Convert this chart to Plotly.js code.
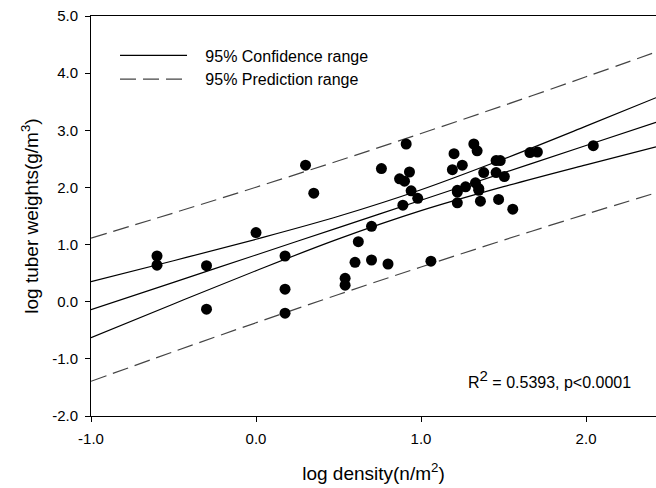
<!DOCTYPE html>
<html><head><meta charset="utf-8">
<script src="https://cdn.plot.ly/plotly-3.0.1.min.js"></script>
<style>body{margin:0;padding:0;background:#fff}#chart{width:656px;height:488px}</style>
</head><body><div id="chart"></div>
<script>
// Observed points (log density, log tuber weight)
const densityX = [-0.60,-0.60,-0.30,-0.30,0.00,0.176,0.176,0.176,0.30,0.35,0.54,0.54,0.60,0.62,0.70,0.70,0.76,0.80,0.87,0.89,0.90,0.91,0.93,0.94,0.98,1.06,1.19,1.20,1.22,1.22,1.22,1.25,1.27,1.32,1.33,1.34,1.35,1.35,1.36,1.38,1.455,1.48,1.455,1.47,1.505,1.556,1.66,1.705,2.044];
const weightY  = [0.80,0.64,0.63,-0.13,1.21,0.80,0.22,-0.20,2.39,1.90,0.41,0.29,0.69,1.05,1.32,0.73,2.33,0.66,2.15,1.69,2.11,2.76,2.27,1.94,1.81,0.71,2.31,2.59,1.95,1.92,1.73,2.39,2.01,2.76,2.08,2.64,1.98,1.95,1.76,2.26,2.47,2.47,2.26,1.79,2.19,1.62,2.61,2.62,2.73];

// Regression and band curves
const lineX      = [-1.0,-0.5,0.0,0.5,1.0,1.5,2.0,2.424];
const fitY       = [-0.140,0.339,0.818,1.297,1.776,2.255,2.734,3.140];
const confUpperY = [0.350,0.717,1.093,1.495,1.959,2.497,3.072,3.570];
const confLowerY = [-0.630,-0.039,0.543,1.099,1.593,2.013,2.396,2.710];
const predUpperY = [1.113,1.553,2.004,2.467,2.944,3.433,3.936,4.370];
const predLowerY = [-1.393,-0.875,-0.368,0.127,0.608,1.077,1.532,1.905];

const xTickVals = [-1,0,1,2];
const xTickText = ["-1.0","0.0","1.0","2.0"];
const yTickVals = [-2,-1,0,1,2,3,4,5];
const yTickText = ["-2.0","-1.0","0.0","1.0","2.0","3.0","4.0","5.0"];

const FONT = "Liberation Sans, Arial, sans-serif";
const solid = {color:"#000", width:1.2, shape:"spline"};
const dashed = {color:"#444", width:1.2, dash:"16px,7px", shape:"spline"};
const NB = "\u00A0\u00A0\u00A0";

const traces = [
  {x:lineX, y:confUpperY, mode:"lines", line:solid, name:NB+"95% Confidence range", showlegend:true, legendgroup:"c"},
  {x:lineX, y:confLowerY, mode:"lines", line:solid, showlegend:false, legendgroup:"c"},
  {x:lineX, y:predUpperY, mode:"lines", line:dashed, name:NB+"95% Prediction range", showlegend:true, legendgroup:"p"},
  {x:lineX, y:predLowerY, mode:"lines", line:dashed, showlegend:false, legendgroup:"p"},
  {x:lineX, y:fitY, mode:"lines", line:solid, showlegend:false},
  {x:densityX, y:weightY, mode:"markers", marker:{color:"#000", size:11}, showlegend:false}
];

const layout = {
  width:656, height:488,
  margin:{l:91, r:0, t:16, b:72, pad:0},
  paper_bgcolor:"#fff", plot_bgcolor:"#fff",
  font:{family:FONT, size:15, color:"#000"},
  showlegend:true,
  legend:{x:0.0425, y:0.944, xanchor:"left", yanchor:"top", bgcolor:"rgba(0,0,0,0)",
          font:{family:FONT, size:16, color:"#000"}, itemwidth:67, tracegroupgap:0},
  xaxis:{range:[-1,2.424], tickvals:xTickVals, ticktext:xTickText, ticks:"outside", ticklen:5,
         tickcolor:"#000", showline:true, linecolor:"#000", linewidth:1, mirror:true,
         showgrid:false, zeroline:false, ticklabelstandoff:4,
         tickfont:{family:FONT, size:15},
         title:{text:"\u00A0\u00A0log density(n/m<sup>2</sup>)", font:{family:FONT, size:19}, standoff:20}},
  yaxis:{range:[-2,5], tickvals:yTickVals, ticktext:yTickText, ticks:"outside", ticklen:5,
         tickcolor:"#000", showline:true, linecolor:"#000", linewidth:1,
         showgrid:false, zeroline:false, ticklabelstandoff:4,
         tickfont:{family:FONT, size:15},
         title:{text:"log tuber weights(g/m<sup>3</sup>)", font:{family:FONT, size:19}, standoff:8}},
  annotations:[{xref:"paper", yref:"paper", x:0.9588, y:0.0575, xanchor:"right", yanchor:"bottom",
    text:"R<sup><span style='font-size:15px'>2</span></sup> = 0.5393, p&lt;0.0001", showarrow:false,
    font:{family:FONT, size:16, color:"#000"}}]
};
Plotly.newPlot("chart", traces, layout, {displayModeBar:false, staticPlot:true});
</script></body></html>
